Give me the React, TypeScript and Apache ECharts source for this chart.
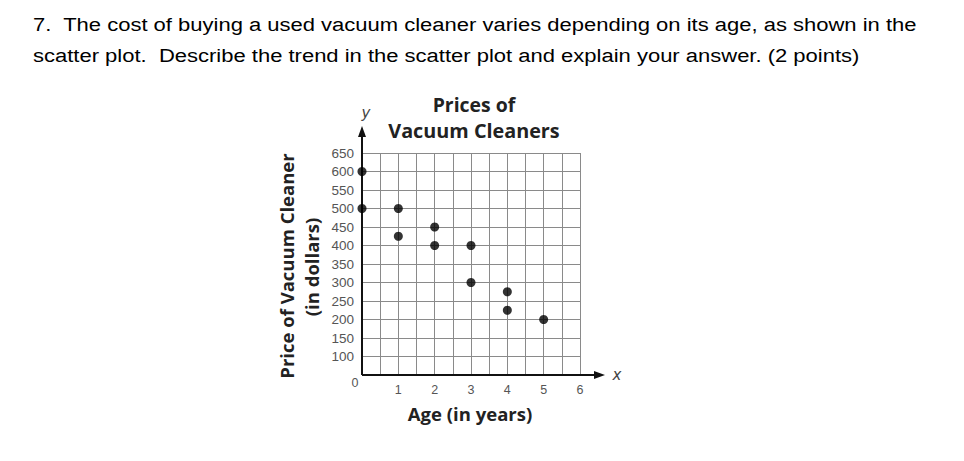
import React, { useEffect, useRef } from "react";
import * as echarts from "echarts";

const questionLines = [
  "7.\u00a0 The cost of buying a used vacuum cleaner varies depending on its age, as shown in the",
  "scatter plot.\u00a0 Describe the trend in the scatter plot and explain your answer. (2 points)",
];
const chartTitleLines = ["Prices of", "Vacuum Cleaners"];
const xName = "Age (in years)";
const yName1 = "Price of Vacuum Cleaner";
const yName2 = "(in dollars)";
const ages = [0, 0, 1, 1, 2, 2, 3, 3, 4, 4, 5];
const prices = [600, 500, 500, 425, 450, 400, 400, 300, 275, 225, 200];

const GL = 362, GR = 580, GT = 153, GB = 375;

export default function App() {
  const ref = useRef<HTMLDivElement>(null);
  useEffect(() => {
    if (!ref.current) return;
    const chart = echarts.init(ref.current, null, { renderer: "svg" });
    const lab = { fontFamily: "Liberation Sans, Arial, sans-serif", color: "#555", fontSize: 13.5 };
    const qStyle = {
      fontFamily: "Liberation Sans, Arial, sans-serif",
      fontSize: 19,
      fill: "#000",
      verticalAlign: "middle",
    };
    const bold = {
      fontFamily: "Open Sans, sans-serif",
      fontWeight: "bold",
      fill: "#222",
      align: "center",
      verticalAlign: "middle",
    };
    chart.setOption({
      animation: false,
      backgroundColor: "#fff",
      grid: { left: GL, right: 964 - GR, top: GT, bottom: 461 - GB },
      xAxis: {
        type: "value",
        min: 0,
        max: 6,
        interval: 0.5,
        axisLine: { show: false },
        axisTick: { show: false },
        splitLine: { show: true, lineStyle: { color: "#8a8a8a", width: 1 } },
        axisLabel: {
          ...lab,
          fontSize: 12.5,
          margin: 8,
          formatter: (v: number) => (v > 0 && Number.isInteger(v) ? String(v) : ""),
        },
      },
      yAxis: {
        type: "value",
        min: 50,
        max: 650,
        interval: 50,
        axisLine: { show: false },
        axisTick: { show: false },
        splitLine: { show: true, lineStyle: { color: "#8a8a8a", width: 1 } },
        axisLabel: {
          ...lab,
          margin: 8,
          formatter: (v: number) => (v >= 100 ? String(v) : ""),
        },
      },
      series: [
        {
          type: "scatter",
          symbolSize: 9,
          itemStyle: { color: "#000" },
          data: ages.map((a, i) => [a, prices[i]]),
          z: 10,
        },
      ],
      graphic: [
        {
          type: "text",
          x: 33,
          y: 24.5,
          scaleX: 1.158,
          style: { text: questionLines[0], ...qStyle },
        },
        {
          type: "text",
          x: 33,
          y: 55.5,
          scaleX: 1.158,
          style: { text: questionLines[1], ...qStyle },
        },
        {
          type: "text",
          x: 474,
          y: 105.5,
          scaleX: 1.08,
          scaleY: 1.05,
          style: { text: chartTitleLines[0], ...bold, fontSize: 18 },
        },
        {
          type: "text",
          x: 474,
          y: 130.5,
          scaleX: 1.1,
          scaleY: 1.05,
          style: { text: chartTitleLines[1], ...bold, fontSize: 18 },
        },
        {
          type: "text",
          x: 470,
          y: 413,
          style: { text: xName, ...bold, fontSize: 18.5 },
        },
        {
          type: "text",
          x: 286,
          y: 266,
          rotation: Math.PI / 2,
          style: { text: yName1, ...bold, fontSize: 18.5 },
        },
        {
          type: "text",
          x: 311,
          y: 267,
          rotation: Math.PI / 2,
          style: { text: yName2, ...bold, fontSize: 18.5 },
        },
        {
          type: "text",
          x: 355,
          y: 383,
          style: { text: "0", align: "center", verticalAlign: "middle", ...lab, fontSize: 12.5, fill: "#555" },
        },
        {
          type: "text",
          x: 366,
          y: 113,
          style: {
            text: "y",
            align: "center",
            verticalAlign: "middle",
            fontFamily: "DejaVu Sans, sans-serif",
            fontStyle: "italic",
            fontSize: 15,
            fill: "#444",
          },
        },
        {
          type: "text",
          x: 617,
          y: 375,
          style: {
            text: "x",
            align: "center",
            verticalAlign: "middle",
            fontFamily: "DejaVu Sans, sans-serif",
            fontStyle: "italic",
            fontSize: 15,
            fill: "#444",
          },
        },
        {
          type: "line",
          shape: { x1: GL, y1: GB, x2: 598, y2: GB },
          style: { stroke: "#111", lineWidth: 2 },
          z: 5,
        },
        {
          type: "line",
          shape: { x1: GL, y1: GB, x2: GL, y2: 134 },
          style: { stroke: "#111", lineWidth: 2 },
          z: 5,
        },
        {
          type: "polygon",
          shape: { points: [[605, GB], [594, GB - 4], [594, GB + 4]] },
          style: { fill: "#111" },
          z: 5,
        },
        {
          type: "polygon",
          shape: { points: [[GL, 126], [GL - 4, 137], [GL + 4, 137]] },
          style: { fill: "#111" },
          z: 5,
        },
      ],
    });
    return () => chart.dispose();
  }, []);
  return (
    <div
      ref={ref}
      style={{ position: "fixed", left: 0, top: 0, width: 964, height: 461 }}
    />
  );
}
